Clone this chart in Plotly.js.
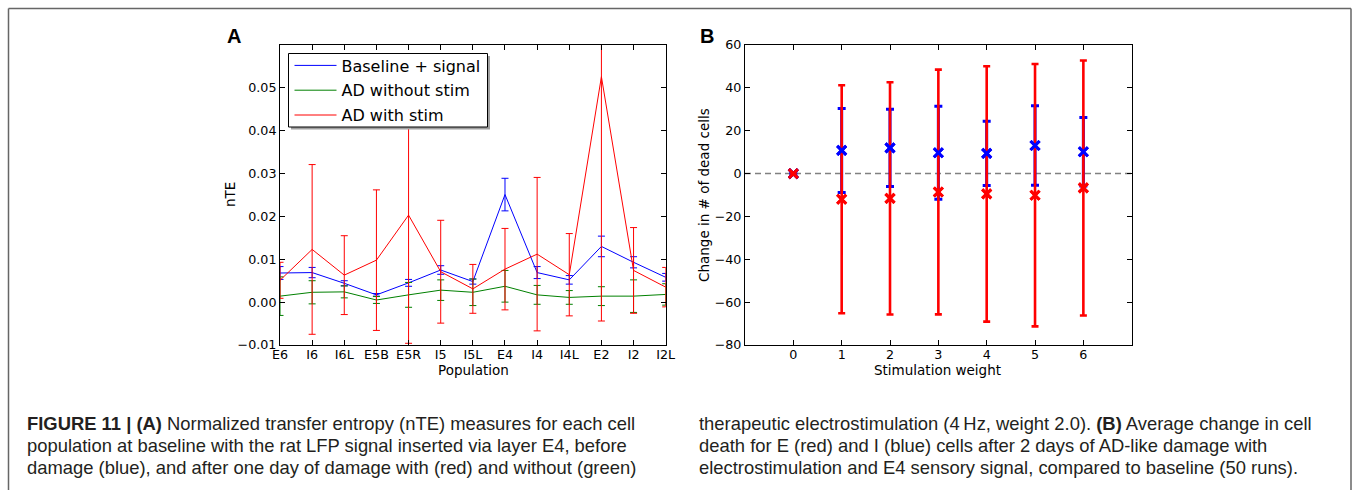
<!DOCTYPE html>
<html>
<head>
<meta charset="utf-8">
<script src="https://cdn.plot.ly/plotly-3.0.1.min.js"></script>
<style>
html,body{margin:0;padding:0;background:#fff;}
#chart{width:1355px;height:490px;position:relative;}
</style>
</head>
<body>
<div id="chart"></div>
<script>
// ---------- Panel A data ----------
const populations = ["E6","I6","I6L","E5B","E5R","I5","I5L","E4","I4","I4L","E2","I2","I2L"];
const baselineNTE = [0.0068,0.0069,0.0044,0.0017,0.0045,0.0075,0.0048,0.0251,0.0069,0.0052,0.0130,0.0093,0.0058];
const baselineErr = [0.0015,0.0012,0.0006,0.0003,0.0008,0.0010,0.0006,0.0038,0.0014,0.0010,0.0024,0.0013,0.0009];
const adNoStimNTE = [0.0014,0.0023,0.0024,0.0005,0.0017,0.0028,0.0023,0.0037,0.0017,0.0011,0.0014,0.0014,0.0018];
const adNoStimErr = [0.0045,0.0027,0.0014,0.0008,0.0029,0.0024,0.0031,0.0037,0.0022,0.0016,0.0022,0.0038,0.0025];
const adStimNTE   = [0.0051,0.0123,0.0063,0.0098,0.0203,0.0071,0.0031,0.0077,0.0112,0.0064,0.0526,0.0074,0.0035];
const adStimErr   = [0.0042,0.0198,0.0092,0.0164,0.0299,0.0120,0.0057,0.0095,0.0179,0.0096,0.0570,0.0100,0.0046];
const nteTicks = [-0.01,0.00,0.01,0.02,0.03,0.04,0.05];

// ---------- Panel B data ----------
const weights = [0,1,2,3,4,5,6];
const eChange = [0,-12.0,-11.6,-8.6,-9.5,-10.1,-6.7];
const eErr    = [0,53.2,54.2,57.1,59.6,61.2,59.5];
const iChange = [0,10.8,12.0,9.7,9.4,13.1,10.2];
const iErr    = [0,19.6,18.0,21.7,15.0,18.6,16.0];
const changeTicks = [-80,-60,-40,-20,0,20,40,60];

const W = 1355, H = 490;
const px = v => v / W;
const py = v => 1 - v / H;

const tickFont = {family: "DejaVu Sans", size: 12.7, color: "#000"};
const titleFont = {family: "DejaVu Sans", size: 13.5, color: "#000"};

function lineTrace(y, err, color, name, group) {
  return {
    x: populations, y: y, type: "scatter", mode: "lines", name: name,
    legendgroup: group, xaxis: "x", yaxis: "y",
    line: {color: color, width: 1},
    error_y: {type: "data", array: err, visible: true, color: color, thickness: 1, width: 3.5},
    cliponaxis: true
  };
}

const xMarker = c => ({symbol: "x-thin", size: 9, color: c, line: {color: c, width: 3}});

const traces = [
  lineTrace(baselineNTE, baselineErr, "#0000ff", "Baseline + signal", "g1"),
  lineTrace(adNoStimNTE, adNoStimErr, "#008000", "AD without stim", "g2"),
  lineTrace(adStimNTE, adStimErr, "#ff0000", "AD with stim", "g3"),
  // Panel B: I cells (blue) with error bars
  {x: weights, y: iChange, type: "scatter", mode: "markers", xaxis: "x2", yaxis: "y2", showlegend: false,
   marker: xMarker("#0000ff"),
   error_y: {type: "data", array: iErr, visible: true, color: "#0000ff", thickness: 3, width: 4}},
  // Panel B: E cells (red) with error bars
  {x: weights, y: eChange, type: "scatter", mode: "markers", xaxis: "x2", yaxis: "y2", showlegend: false,
   marker: xMarker("#ff0000"),
   error_y: {type: "data", array: eErr, visible: true, color: "#ff0000", thickness: 2.6, width: 3.5}},
  // markers on top of the bars
  {x: weights, y: iChange, type: "scatter", mode: "markers", xaxis: "x2", yaxis: "y2", showlegend: false,
   marker: xMarker("#0000ff")},
  {x: weights, y: eChange, type: "scatter", mode: "markers", xaxis: "x2", yaxis: "y2", showlegend: false,
   marker: xMarker("#ff0000")}
];

const axisCommon = {
  showline: true, linecolor: "#000", linewidth: 1, mirror: "allticks",
  ticks: "inside", ticklen: 5, tickwidth: 1, tickcolor: "#000",
  showgrid: false, zeroline: false, tickfont: tickFont, fixedrange: true
};

const capFont = {family: "Liberation Sans", size: 18.4, color: "#231f20"};
const capLines = [
  [25, 423, "<b>FIGURE 11 | (A)</b> Normalized transfer entropy (nTE) measures for each cell"],
  [25, 445, "population at baseline with the rat LFP signal inserted via layer E4, before"],
  [25, 467, "damage (blue), and after one day of damage with (red) and without (green)"],
  [697, 423, "therapeutic electrostimulation (4\u2009Hz, weight 2.0). <b>(B)</b> Average change in cell"],
  [697, 445, "death for E (red) and I (blue) cells after 2 days of AD-like damage with"],
  [697, 467, "electrostimulation and E4 sensory signal, compared to baseline (50 runs)."]
];

const annotations = capLines.map(c => ({
  xref: "paper", yref: "paper", x: px(c[0]), y: py(c[1]), xanchor: "left", yanchor: "middle",
  text: c[2], showarrow: false, font: capFont
}));
annotations.push(
  {xref: "paper", yref: "paper", x: px(234), y: py(36), xanchor: "center", yanchor: "middle", text: "<b>A</b>", showarrow: false, font: {family: "Liberation Sans", size: 20, color: "#000"}},
  {xref: "paper", yref: "paper", x: px(707), y: py(36), xanchor: "center", yanchor: "middle", text: "<b>B</b>", showarrow: false, font: {family: "Liberation Sans", size: 20, color: "#000"}},
  {xref: "paper", yref: "paper", x: px(473), y: py(370), xanchor: "center", yanchor: "middle", text: "Population", showarrow: false, font: titleFont},
  {xref: "paper", yref: "paper", x: px(230), y: py(195), xanchor: "center", yanchor: "middle", text: "nTE", textangle: -90, showarrow: false, font: titleFont},
  {xref: "paper", yref: "paper", x: px(938), y: py(370), xanchor: "center", yanchor: "middle", text: "Stimulation weight", showarrow: false, font: titleFont},
  {xref: "paper", yref: "paper", x: px(704), y: py(195), xanchor: "center", yanchor: "middle", text: "Change in # of dead cells", textangle: -90, showarrow: false, font: titleFont}
);

// legend frame: box with a drop shadow, drawn above the traces, under the legend entries
const legBox = {l: 288.5, r: 487.5, t: 53.5, b: 127};
const shapes = [
  {type: "line", xref: "x2", yref: "y2", x0: -1, x1: 7, y0: 0, y1: 0, layer: "below",
   line: {color: "#808080", width: 1.5, dash: "6px,4px"}},
  {type: "rect", xref: "paper", yref: "paper", layer: "above",
   x0: px(legBox.l + 2.5), x1: px(legBox.r + 2.5), y0: py(legBox.t + 2.5), y1: py(legBox.b + 2.5),
   fillcolor: "#a0a0a0", line: {width: 0}},
  {type: "rect", xref: "paper", yref: "paper", layer: "above",
   x0: px(legBox.l), x1: px(legBox.r), y0: py(legBox.t), y1: py(legBox.b),
   fillcolor: "#ffffff", line: {color: "#000", width: 1}},
  {type: "line", xref: "paper", yref: "paper", x0: px(8.5), x1: px(1351), y0: py(8.5), y1: py(8.5),
   line: {color: "#666", width: 1.5}},
  {type: "line", xref: "paper", yref: "paper", x0: px(8.5), x1: px(8.5), y0: py(8.5), y1: -0.02,
   line: {color: "#666", width: 1.5}},
  {type: "line", xref: "paper", yref: "paper", x0: px(1351), x1: px(1351), y0: py(8.5), y1: -0.02,
   line: {color: "#666", width: 1.5}}
];

const layout = {
  width: W, height: H,
  margin: {l: 0, r: 0, t: 0, b: 0},
  paper_bgcolor: "#fff", plot_bgcolor: "#fff",
  showlegend: true,
  legend: {
    x: px(legBox.l + 1), y: py(legBox.t - 5), xanchor: "left", yanchor: "top",
    bgcolor: "rgba(0,0,0,0)", borderwidth: 0,
    font: {family: "DejaVu Sans", size: 16, color: "#000"},
    traceorder: "grouped", tracegroupgap: 1, itemwidth: 42
  },
  xaxis: Object.assign({}, axisCommon, {
    domain: [px(280), px(665.7)], anchor: "y", type: "category",
    categoryorder: "array", categoryarray: populations, range: [0, 12], ticklabelstandoff: -2
  }),
  yaxis: Object.assign({}, axisCommon, {
    domain: [1 - 345/H, 1 - 45/H], anchor: "x", range: [-0.01, 0.06],
    tickvals: nteTicks, tickformat: ".2f"
  }),
  xaxis2: Object.assign({}, axisCommon, {
    domain: [px(745), px(1131.7)], anchor: "y2", range: [-1, 7], tickvals: weights, ticklabelstandoff: -2
  }),
  yaxis2: Object.assign({}, axisCommon, {
    domain: [1 - 345/H, 1 - 45/H], anchor: "x2", range: [-80, 60], tickvals: changeTicks
  }),
  shapes: shapes,
  annotations: annotations
};

Plotly.newPlot("chart", traces, layout, {displayModeBar: false, staticPlot: true});
</script>
</body>
</html>
